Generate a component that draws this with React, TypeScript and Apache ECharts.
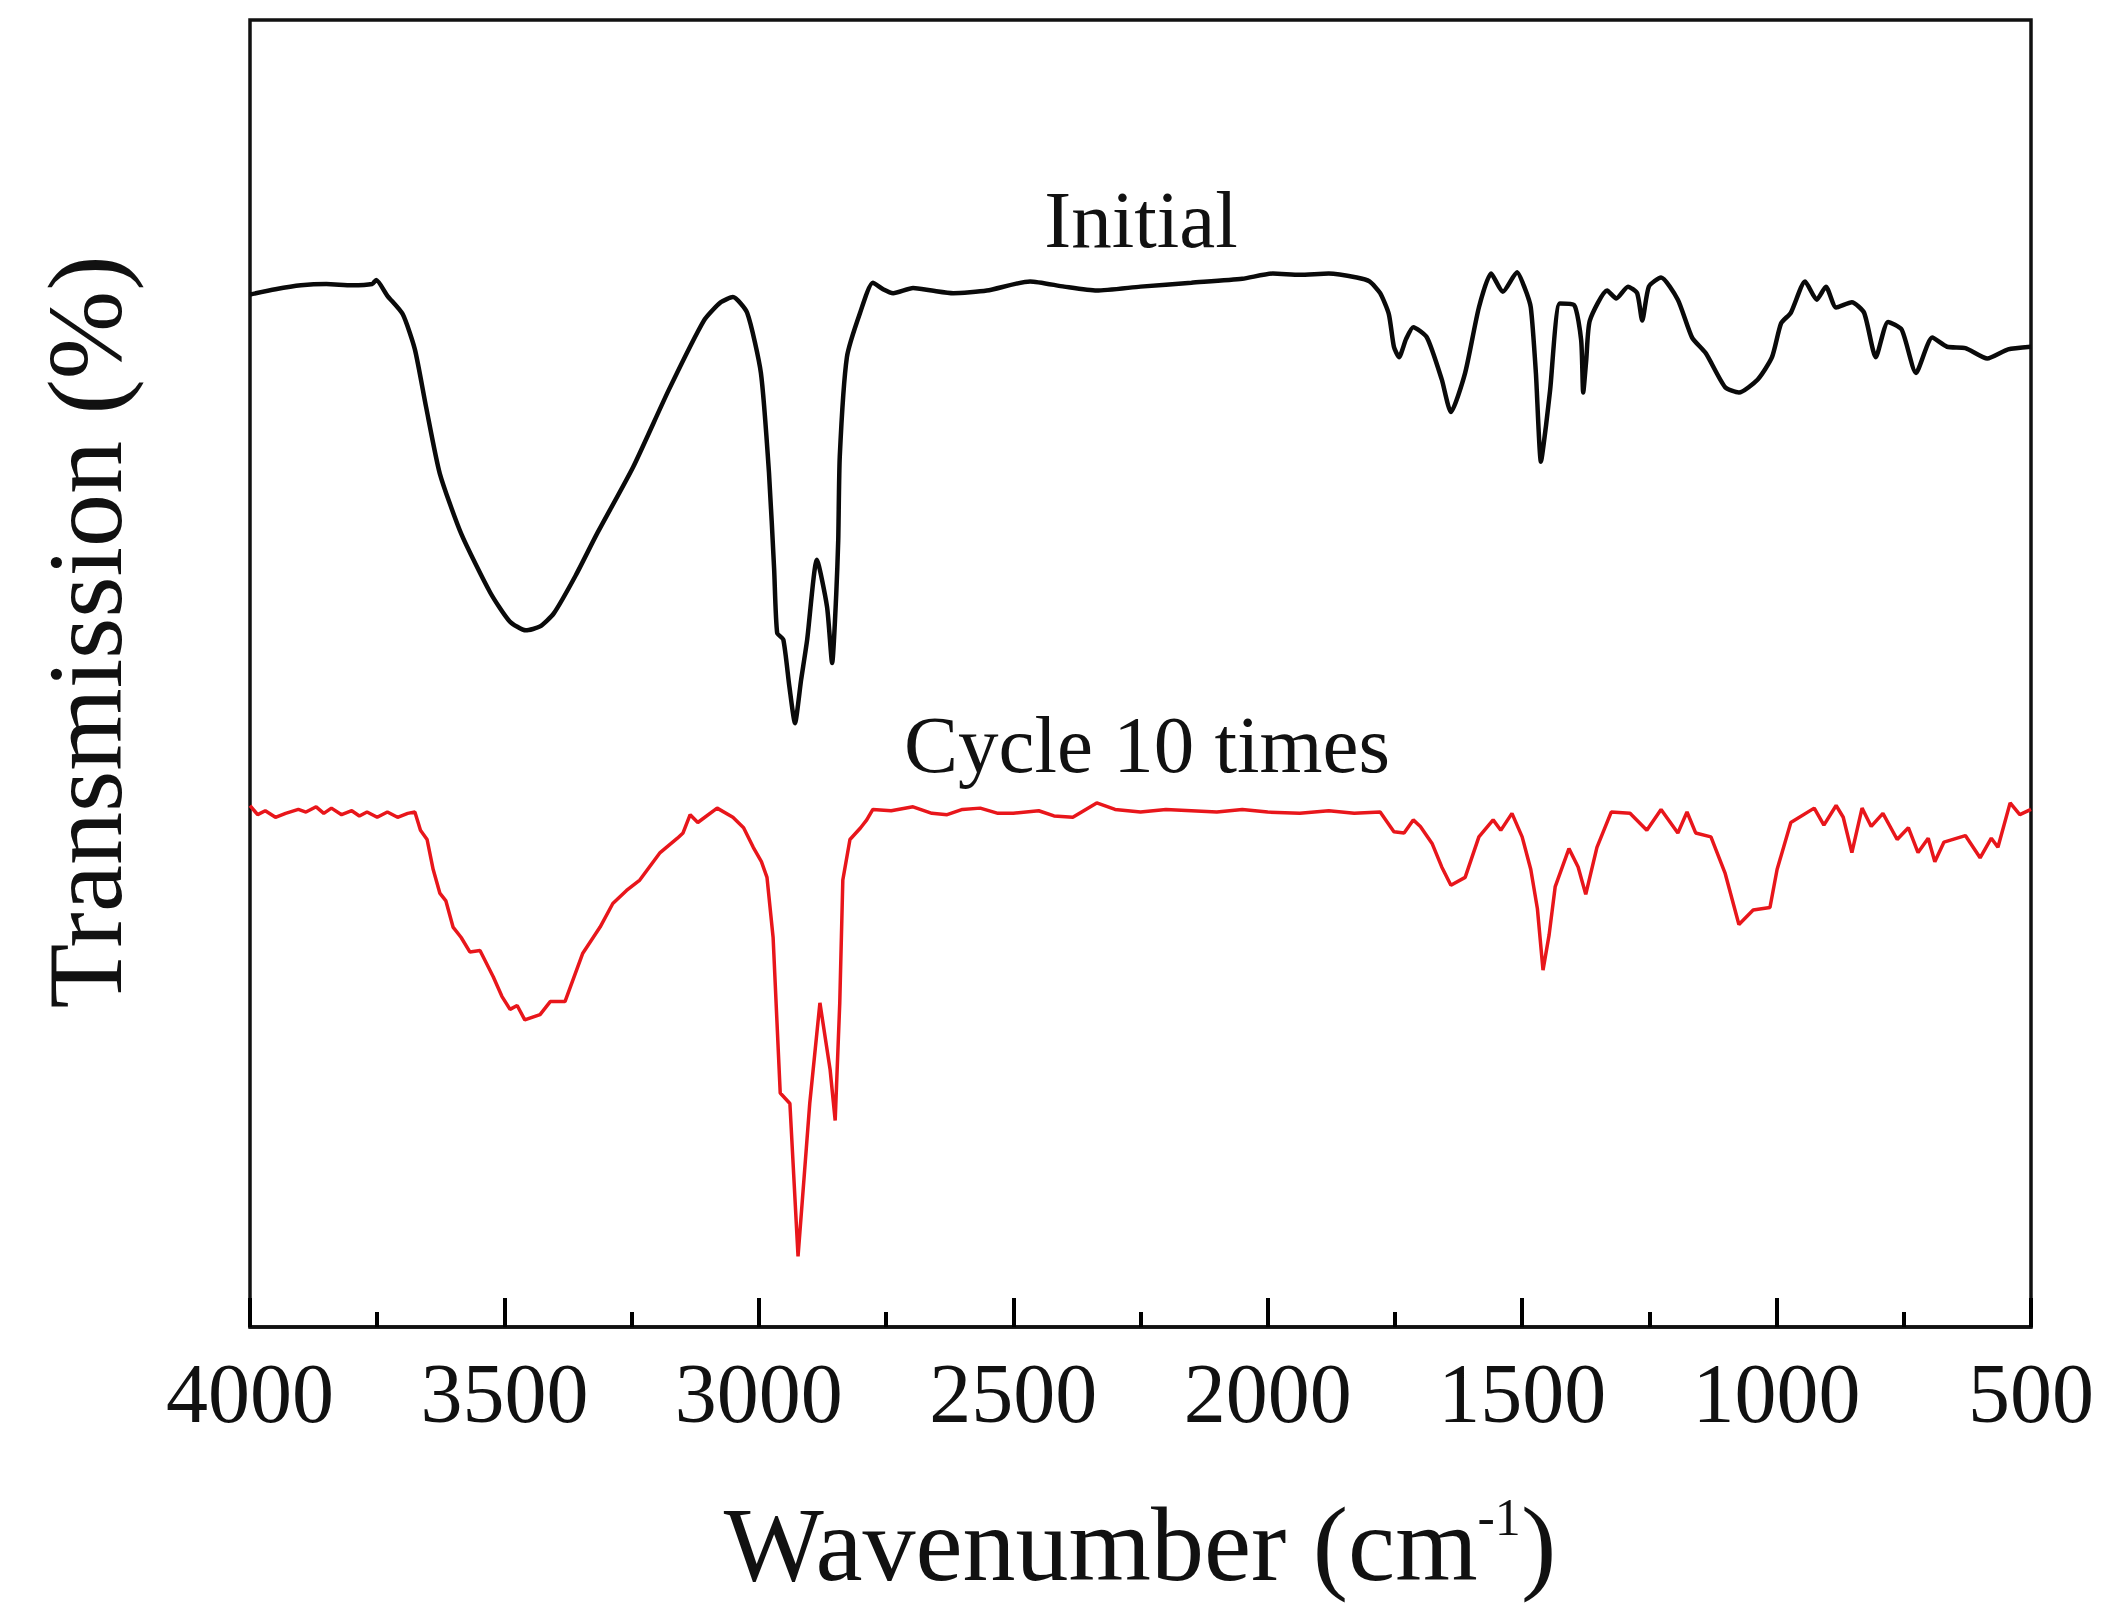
import { useRef, useEffect } from 'react'
import * as echarts from 'echarts'

// wavenumber (cm-1) / transmission (arbitrary, offset)
const initialWavenumber = [
  4000, 3950, 3900, 3850, 3800, 3760, 3752, 3730, 3700, 3676, 3654, 3627, 3585, 3528, 3490,
  3458, 3430, 3403, 3360, 3318, 3247, 3177, 3108, 3075, 3051, 3023, 2996, 2980, 2970, 2964,
  2952, 2940, 2929, 2917, 2905, 2886, 2866, 2856, 2848, 2844, 2841, 2827, 2801, 2776, 2756,
  2736, 2697, 2660, 2618, 2552, 2467, 2400, 2336, 2250, 2150, 2050, 1990, 1937, 1880, 1825,
  1800, 1779, 1762, 1752, 1742, 1728, 1714, 1687, 1658, 1640, 1612, 1585, 1561, 1538, 1510,
  1495, 1483, 1473, 1463, 1453, 1445, 1426, 1398, 1384, 1380, 1374, 1367, 1333, 1315, 1292,
  1274, 1264, 1251, 1227, 1194, 1166, 1139, 1101, 1074, 1037, 1009, 991, 972, 944, 921,
  903, 883, 852, 828, 805, 781, 754, 726, 694, 665, 629, 586, 545, 500,
]
const initialTransmission = [
  79.0, 79.4, 79.7, 79.8, 79.7, 79.8, 80.1, 78.9, 77.5, 74.8, 70.4, 65.3, 60.7, 56.2, 54.0,
  53.3, 53.6, 54.6, 57.5, 60.7, 65.8, 71.7, 77.0, 78.4, 78.8, 77.6, 73.0, 65.3, 58.0, 53.1,
  52.6, 49.0, 46.2, 49.5, 52.6, 58.7, 55.1, 50.8, 56.0, 60.2, 66.6, 74.2, 77.6, 79.9, 79.4,
  79.1, 79.5, 79.3, 79.1, 79.3, 80.0, 79.6, 79.3, 79.6, 79.9, 80.2, 80.6, 80.5, 80.6, 80.3,
  80.0, 79.1, 77.5, 75.0, 74.2, 75.6, 76.5, 75.7, 72.5, 70.0, 73.0, 78.0, 80.6, 79.2, 80.7,
  79.5, 78.0, 73.0, 66.2, 69.0, 71.7, 78.3, 78.2, 75.5, 71.5, 74.0, 77.0, 79.3, 78.7, 79.6,
  79.1, 77.0, 79.6, 80.3, 78.6, 75.7, 74.5, 71.9, 71.5, 72.5, 74.2, 76.8, 77.6, 80.0, 78.6,
  79.6, 78.0, 78.4, 77.6, 74.2, 76.9, 76.3, 73.0, 75.7, 75.0, 74.9, 74.1, 74.8, 75.0,
]

const cycleWavenumber = [
  4000, 3985, 3970, 3950, 3930, 3905, 3890, 3870, 3855, 3840, 3820, 3800, 3785, 3770, 3750,
  3730, 3710, 3690, 3676, 3665, 3652, 3640, 3627, 3615, 3601, 3585, 3568, 3548, 3522, 3505,
  3489, 3475, 3460, 3430, 3410, 3381, 3346, 3312, 3287, 3260, 3234, 3194, 3160, 3149, 3135,
  3120, 3082, 3051, 3030, 3011, 2995, 2984, 2972, 2958, 2939, 2923, 2910, 2900, 2880, 2860,
  2850, 2841, 2835, 2821, 2800, 2788, 2776, 2740, 2697, 2660, 2630, 2600, 2565, 2530, 2500,
  2450, 2420, 2383, 2336, 2300, 2250, 2200, 2150, 2100, 2050, 2000, 1937, 1880, 1830, 1779,
  1752, 1732, 1714, 1700, 1677, 1658, 1640, 1612, 1585, 1557, 1542, 1520, 1500, 1483, 1470,
  1459, 1447, 1435, 1408, 1390, 1375, 1353, 1325, 1288, 1255, 1227, 1194, 1176, 1159, 1129,
  1101, 1074, 1046, 1013, 999, 972, 926, 907, 883, 869, 852, 832, 814, 791, 763,
  741, 722, 702, 689, 671, 629, 600, 578, 565, 541, 522, 500,
]
const cycleTransmission = [
  39.9, 39.2, 39.5, 39.0, 39.3, 39.6, 39.4, 39.8, 39.3, 39.7, 39.2, 39.5, 39.1, 39.4, 39.0,
  39.4, 39.0, 39.3, 39.4, 38.0, 37.3, 35.0, 33.2, 32.6, 30.6, 29.8, 28.7, 28.8, 26.8, 25.3,
  24.3, 24.6, 23.5, 23.9, 24.9, 24.9, 28.6, 30.6, 32.4, 33.4, 34.2, 36.3, 37.4, 37.8, 39.2,
  38.6, 39.7, 39.0, 38.2, 36.7, 35.6, 34.4, 29.8, 17.9, 17.1, 5.4, 12.0, 17.1, 24.8, 19.7,
  15.8, 24.8, 34.2, 37.3, 38.2, 38.8, 39.6, 39.5, 39.8, 39.3, 39.2, 39.6, 39.7, 39.3, 39.3,
  39.5, 39.1, 39.0, 40.1, 39.6, 39.4, 39.6, 39.5, 39.4, 39.6, 39.4, 39.3, 39.5, 39.3, 39.4,
  37.9, 37.8, 38.8, 38.3, 37.0, 35.2, 33.8, 34.4, 37.5, 38.8, 38.0, 39.3, 37.5, 35.0, 32.0,
  27.3, 30.0, 33.7, 36.6, 35.2, 33.1, 36.7, 39.4, 39.3, 38.0, 39.6, 37.8, 39.4, 37.8, 37.5,
  34.7, 30.8, 31.9, 32.1, 35.0, 38.6, 39.7, 38.4, 39.9, 39.0, 36.3, 39.7, 38.3, 39.3, 37.3,
  38.2, 36.3, 37.4, 35.6, 37.1, 37.6, 35.9, 37.4, 36.7, 40.1, 39.2, 39.6,
]

const seriesNames = ['Initial', 'Cycle 10 times']
const xRange = { min: 500, max: 4000, major: 500, minor: 250 }

const serif = '"Liberation Serif", "Times New Roman", serif'
const ink = '#111'

const zip = (xs: number[], ys: number[]) => xs.map((x, i) => [x, ys[i]])

export default function App() {
  const chartRef = useRef<HTMLDivElement>(null)

  useEffect(() => {
    if (!chartRef.current) return
    const chart = echarts.init(chartRef.current, undefined, { renderer: 'svg' })

    const plotBox = { left: 250, right: 85, top: 20, bottom: 297 }
    const xBase = {
      type: 'value',
      inverse: true,
      min: xRange.min,
      max: xRange.max,
      position: 'bottom',
      splitLine: { show: false },
    }
    const hiddenY = {
      type: 'value',
      min: 0,
      max: 100,
      axisLine: { show: false },
      axisTick: { show: false },
      axisLabel: { show: false },
      splitLine: { show: false },
    }

    chart.setOption({
      animation: false,
      grid: [
        { ...plotBox, show: true, borderColor: ink, borderWidth: 3.5 },
        // second grid over the same box only carries the tick marks
        { ...plotBox, show: false },
      ],
      xAxis: [
        {
          // labels + axis line
          ...xBase,
          gridIndex: 0,
          interval: xRange.major,
          axisLine: { show: true, lineStyle: { color: ink, width: 3.5 } },
          axisTick: { show: false },
          axisLabel: {
            color: ink,
            fontSize: 84,
            fontFamily: serif,
            margin: 24,
            formatter: (v: number) => String(v),
          },
        },
        {
          // major ticks
          ...xBase,
          gridIndex: 1,
          interval: xRange.major,
          axisLine: { show: false },
          axisTick: { show: true, inside: true, length: 29, lineStyle: { color: '#000', width: 4 } },
          minorTick: { show: true, splitNumber: 2, length: 15, lineStyle: { color: '#000', width: 4 } },
          axisLabel: { show: false },
        },
      ],
      yAxis: [
        { ...hiddenY, gridIndex: 0 },
        { ...hiddenY, gridIndex: 1 },
      ],
      graphic: [
        {
          type: 'text',
          x: 85,
          y: 632,
          rotation: Math.PI / 2,
          style: {
            text: 'Transmission (%)',
            fill: ink,
            fontSize: 106,
            fontFamily: serif,
            align: 'center',
            verticalAlign: 'middle',
          },
        },
        {
          type: 'text',
          x: 1140,
          y: 1544,
          style: {
            text: '{a|Wavenumber (cm}{b|-1}{a|)}',
            fill: ink,
            align: 'center',
            verticalAlign: 'middle',
            rich: {
              a: { fontSize: 106, fontFamily: serif, fill: ink },
              b: { fontSize: 52, fontFamily: serif, fill: ink, verticalAlign: 'top' },
            },
          },
        },
        {
          type: 'text',
          x: 1141,
          y: 220,
          style: {
            text: seriesNames[0],
            fill: ink,
            fontSize: 81,
            fontFamily: serif,
            align: 'center',
            verticalAlign: 'middle',
          },
        },
        {
          type: 'text',
          x: 1147,
          y: 745,
          style: {
            text: seriesNames[1],
            fill: ink,
            fontSize: 81,
            fontFamily: serif,
            align: 'center',
            verticalAlign: 'middle',
          },
        },
      ],
      series: [
        {
          name: seriesNames[0],
          type: 'line',
          xAxisIndex: 0,
          yAxisIndex: 0,
          data: zip(initialWavenumber, initialTransmission),
          showSymbol: false,
          smooth: 0.2,
          lineStyle: { color: '#0a0a0a', width: 4.5 },
        },
        {
          name: seriesNames[1],
          type: 'line',
          xAxisIndex: 0,
          yAxisIndex: 0,
          data: zip(cycleWavenumber, cycleTransmission),
          showSymbol: false,
          lineStyle: { color: '#e8161b', width: 3.5 },
        },
      ],
    })

    return () => chart.dispose()
  }, [])

  return (
    <div
      ref={chartRef}
      style={{ position: 'absolute', left: 0, top: 0, width: 2116, height: 1624, background: '#fff' }}
    />
  )
}
